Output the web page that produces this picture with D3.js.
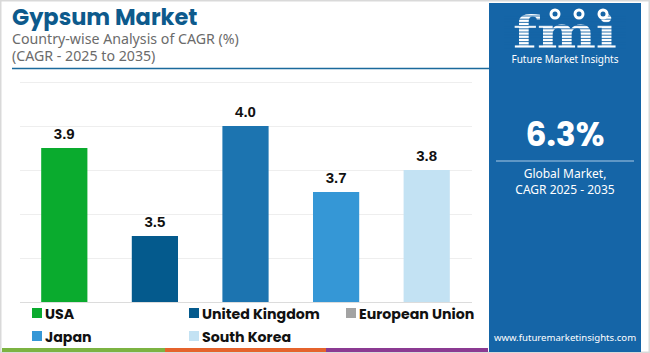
<!DOCTYPE html>
<html><head><meta charset="utf-8">
<script src="https://cdn.jsdelivr.net/npm/d3@7"></script>
<style>
html,body{margin:0;padding:0;background:#fff;}
svg{display:block;}
</style></head>
<body>
<svg id="chart" width="650" height="353"></svg>
<script>
const categories = ["USA", "United Kingdom", "European Union", "Japan", "South Korea"];
const values = [3.9, 3.5, 4.0, 3.7, 3.8];
const barColors = ["#0aab2e", "#045a8d", "#1c74b0", "#3597d6", "#c3e2f3"];
const legendColors = ["#0aab2e", "#045a8d", "#a3a3a3", "#3597d6", "#c3e2f3"];
const gridTicks = [3.2, 3.4, 3.6, 3.8, 4.0, 4.2];
const title = "Gypsum Market";
const subtitle1 = "Country-wise Analysis of CAGR (%)";
const subtitle2 = "(CAGR - 2025 to 2035)";
const globalCagr = "6.3%";
const panelLine1 = "Global Market,";
const panelLine2 = "CAGR 2025 - 2035";
const website = "www.futuremarketinsights.com";
const stripeColors = ["#7cb342", "#e5632c", "#8b3a92"];

const svg = d3.select("#chart");
const W = 650, H = 353;

// frame
svg.append("rect").attr("x",0.5).attr("y",0.5).attr("width",W-1).attr("height",H-1)
  .attr("fill","#fff").attr("stroke","#d9d9d9").attr("stroke-width",2);

// title block
svg.append("text").attr("x",12).attr("y",25).text(title)
  .attr("font-family","Poppins, 'Noto Sans', sans-serif").attr("font-weight",700)
  .attr("font-size",22.5).attr("fill","#0d5a8c");
svg.append("text").attr("x",12).attr("y",44).text(subtitle1)
  .attr("font-family","'Noto Sans', sans-serif").attr("font-size",14.2).attr("fill","#6b6b6b");
svg.append("text").attr("x",12).attr("y",61).text(subtitle2)
  .attr("font-family","'Noto Sans', sans-serif").attr("font-size",14.2).attr("fill","#6b6b6b");
svg.append("line").attr("x1",12).attr("x2",490).attr("y1",68.5).attr("y2",68.5)
  .attr("stroke","#1b6a9c").attr("stroke-width",1.5);

// scales
const x = d3.scaleBand().domain(categories).range([19,472]).paddingInner(0.49).paddingOuter(0.245);
const y = d3.scaleLinear().domain([3.2,4.2]).range([302,82]);

// gridlines
const grid = svg.append("g")
  .call(d3.axisLeft(y).tickValues(gridTicks).tickSize(-(472-20)).tickFormat(""))
  .attr("transform","translate(20,0)");
grid.select(".domain").remove();
grid.selectAll(".tick line").attr("stroke","#eeeeee").attr("stroke-width",1);
grid.selectAll(".tick").filter(d=>d===3.2).select("line").attr("stroke","#dcdcdc");

// bars
svg.append("g").selectAll("rect").data(values).join("rect")
  .attr("x",(d,i)=>x(categories[i]))
  .attr("y",d=>y(d))
  .attr("width",x.bandwidth())
  .attr("height",d=>y(3.2)-y(d))
  .attr("fill",(d,i)=>barColors[i]);

// value labels
svg.append("g").selectAll("text").data(values).join("text")
  .attr("x",(d,i)=>x(categories[i])+x.bandwidth()/2)
  .attr("y",d=>y(d)-9)
  .attr("text-anchor","middle")
  .attr("font-family","'Liberation Sans', Arial, sans-serif").attr("font-weight",700)
  .attr("font-size",15).attr("fill","#111")
  .text(d=>d.toFixed(1));

// legend
const legPos = [[32,313],[189,313],[346,313],[32,336],[189,336]];
const leg = svg.append("g").selectAll("g").data(categories).join("g")
  .attr("transform",(d,i)=>`translate(${legPos[i][0]},${legPos[i][1]})`);
leg.append("rect").attr("x",0).attr("y",-5).attr("width",10).attr("height",10)
  .attr("fill",(d,i)=>legendColors[i]);
leg.append("text").attr("x",13).attr("y",5.5).text(d=>d)
  .attr("font-family","Poppins, 'Noto Sans', sans-serif").attr("font-weight",700)
  .attr("font-size",14.2).attr("fill","#111");

// bottom stripes
const stripeX = [2,165,326,488];
svg.append("g").selectAll("rect").data(stripeColors).join("rect")
  .attr("x",(d,i)=>stripeX[i]).attr("y",348)
  .attr("width",(d,i)=>stripeX[i+1]-stripeX[i]).attr("height",4)
  .attr("fill",d=>d);

// right panel
const px = 489, pw = 152;
svg.append("rect").attr("x",px).attr("y",3).attr("width",pw).attr("height",349).attr("fill","#1565a7");
const cx = px + pw/2;

// logo
const logo = svg.append("g");
logo.append("text").attr("x",cx).attr("y",48).attr("text-anchor","middle")
  .attr("font-family","'DejaVu Serif', serif").attr("font-weight",700)
  .attr("font-size",44).attr("textLength",104).attr("lengthAdjust","spacingAndGlyphs")
  .attr("fill","#fff").text("fmi");
for (let yy = 16; yy < 50; yy += 3.2) {
  logo.append("line").attr("x1",px+15).attr("x2",px+pw-15).attr("y1",yy).attr("y2",yy)
    .attr("stroke","#1565a7").attr("stroke-width",0.9);
}
[[555,14],[579,14],[603,14]].forEach(([a,b])=>{
  logo.append("circle").attr("cx",a).attr("cy",b).attr("r",5.5).attr("fill","#fff");
  logo.append("circle").attr("cx",a).attr("cy",b).attr("r",2.5).attr("fill","#1565a7");
});
logo.append("text").attr("x",cx).attr("y",63).attr("text-anchor","middle")
  .attr("font-family","'Noto Sans', sans-serif").attr("font-size",10).attr("fill","#fff")
  .text("Future Market Insights");

svg.append("text").attr("x",cx).attr("y",146).attr("text-anchor","middle")
  .attr("font-family","Poppins, 'Noto Sans', sans-serif").attr("font-weight",700)
  .attr("font-size",33).attr("fill","#fff").text(globalCagr);
svg.append("line").attr("x1",px+7).attr("x2",px+pw-7).attr("y1",161).attr("y2",161)
  .attr("stroke","#a9c9e6").attr("stroke-width",1.2);
svg.append("text").attr("x",cx).attr("y",178).attr("text-anchor","middle")
  .attr("font-family","'Noto Sans', sans-serif").attr("font-size",12).attr("fill","#fff").text(panelLine1);
svg.append("text").attr("x",cx).attr("y",194).attr("text-anchor","middle")
  .attr("font-family","'Noto Sans', sans-serif").attr("font-size",12).attr("fill","#fff").text(panelLine2);
svg.append("text").attr("x",cx).attr("y",341).attr("text-anchor","middle")
  .attr("font-family","'Noto Sans', sans-serif").attr("font-size",9.6).attr("fill","#fff").text(website);
</script>
</body></html>
